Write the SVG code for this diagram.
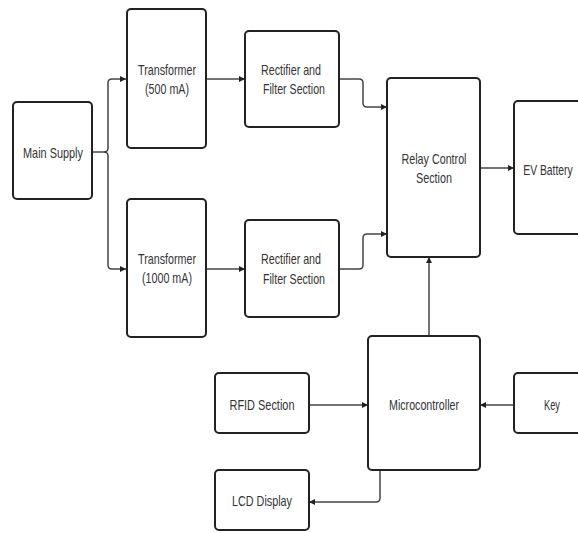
<svg xmlns="http://www.w3.org/2000/svg" width="578" height="533" viewBox="0 0 578 533">
<style>
.box{fill:#fff;stroke:#222;stroke-width:2}
.t{font-family:"Liberation Sans",Arial,sans-serif;font-size:15px;fill:#333;text-anchor:middle}
.c{fill:none;stroke:#444;stroke-width:1.5}
</style>
<defs>
<marker id="ah" viewBox="0 0 10 10" refX="10" refY="5" markerWidth="6" markerHeight="6" orient="auto" markerUnits="userSpaceOnUse">
<path d="M0,0 L10,5 L0,10 z" fill="#222"/>
</marker>
</defs>
<rect width="578" height="533" fill="#fff"/>
<g id="connectors">
<path class="c" d="M92,152 H104 Q108,152 108,148 V83 Q108,79 112,79 H126" marker-end="url(#ah)"/>
<path class="c" d="M104,152 Q108,152 108,156 V265 Q108,269 112,269 H126" marker-end="url(#ah)"/>
<path class="c" d="M206,79 H245" marker-end="url(#ah)"/>
<path class="c" d="M206,269 H245" marker-end="url(#ah)"/>
<path class="c" d="M339,79 H359 Q363,79 363,83 V103 Q363,107 367,107 H387" marker-end="url(#ah)"/>
<path class="c" d="M339,269 H359 Q363,269 363,265 V238 Q363,234 367,234 H387" marker-end="url(#ah)"/>
<path class="c" d="M480,168 H514" marker-end="url(#ah)"/>
<path class="c" d="M429,336 V257" marker-end="url(#ah)"/>
<path class="c" d="M309,405 H368" marker-end="url(#ah)"/>
<path class="c" d="M514,405 H480" marker-end="url(#ah)"/>
<path class="c" d="M380,470 V498 Q380,502 376,502 H309" marker-end="url(#ah)"/>
</g>
<g id="main-supply"><rect class="box" x="13" y="102" width="79" height="97" rx="4"/><text class="t" x="53" y="158" textLength="60" lengthAdjust="spacingAndGlyphs">Main Supply</text></g>
<g id="transformer-500"><rect class="box" x="127" y="9" width="79" height="139" rx="4"/><text class="t" x="167" y="75" textLength="58" lengthAdjust="spacingAndGlyphs">Transformer</text><text class="t" x="167" y="94" textLength="44" lengthAdjust="spacingAndGlyphs">(500 mA)</text></g>
<g id="rectifier-1"><rect class="box" x="245" y="31" width="94" height="96" rx="4"/><text class="t" x="291" y="75" textLength="60" lengthAdjust="spacingAndGlyphs">Rectifier and</text><text class="t" x="294" y="94" textLength="62" lengthAdjust="spacingAndGlyphs">Filter Section</text></g>
<g id="transformer-1000"><rect class="box" x="127" y="199" width="79" height="138" rx="4"/><text class="t" x="167" y="264" textLength="58" lengthAdjust="spacingAndGlyphs">Transformer</text><text class="t" x="167" y="283" textLength="50" lengthAdjust="spacingAndGlyphs">(1000 mA)</text></g>
<g id="rectifier-2"><rect class="box" x="245" y="220" width="94" height="97" rx="4"/><text class="t" x="291" y="264" textLength="60" lengthAdjust="spacingAndGlyphs">Rectifier and</text><text class="t" x="294" y="284" textLength="62" lengthAdjust="spacingAndGlyphs">Filter Section</text></g>
<g id="relay"><rect class="box" x="387" y="78" width="93" height="179" rx="4"/><text class="t" x="434" y="164" textLength="65" lengthAdjust="spacingAndGlyphs">Relay Control</text><text class="t" x="434" y="183" textLength="36" lengthAdjust="spacingAndGlyphs">Section</text></g>
<g id="ev-battery"><rect class="box" x="514" y="101" width="80" height="133" rx="4"/><text class="t" transform="translate(548,175) scale(0.69,1)" x="0" y="0">EV Battery</text></g>
<g id="microcontroller"><rect class="box" x="368" y="336" width="112" height="134" rx="4"/><text class="t" x="424" y="410" textLength="70" lengthAdjust="spacingAndGlyphs">Microcontroller</text></g>
<g id="rfid"><rect class="box" x="215" y="373" width="94" height="60" rx="4"/><text class="t" x="262" y="410" textLength="65" lengthAdjust="spacingAndGlyphs">RFID Section</text></g>
<g id="key"><rect class="box" x="514" y="373" width="80" height="60" rx="4"/><text class="t" x="552" y="410" textLength="16" lengthAdjust="spacingAndGlyphs">Key</text></g>
<g id="lcd"><rect class="box" x="215" y="470" width="94" height="60" rx="4"/><text class="t" x="262" y="506" textLength="60" lengthAdjust="spacingAndGlyphs">LCD Display</text></g>
</svg>
